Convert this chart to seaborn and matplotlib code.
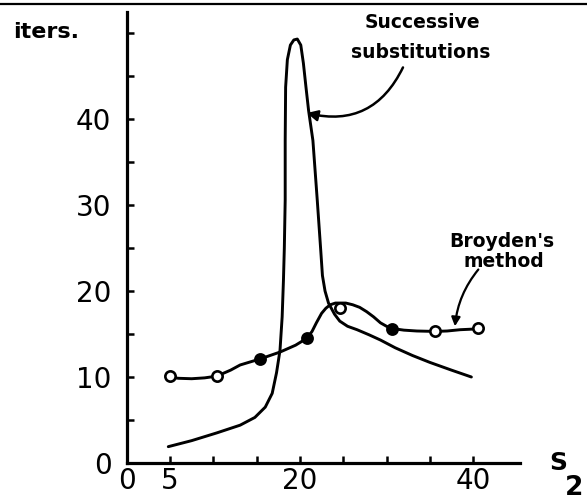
import matplotlib
matplotlib.use("Agg")
import matplotlib.pyplot as plt
import seaborn as sns
import pandas as pd
from matplotlib.lines import Line2D

# Successive substitutions: iterations needed versus S2 (traced curve)
subst_s2 = [4.8, 7.5, 10.4, 13.1, 14.8, 16.0, 16.8, 17.3, 17.7, 17.95, 18.1, 18.2,
            18.3, 18.3, 18.35, 18.55, 18.9, 19.3, 19.7, 20.1, 20.4, 20.7, 21.0,
            21.5, 22.0, 22.4, 22.6, 22.9, 23.3, 24.0, 24.6, 25.5, 26.6, 28.0,
            29.3, 31.0, 33.0, 35.0, 37.5, 39.8]
subst_iters = [1.9, 2.6, 3.5, 4.4, 5.3, 6.5, 8.1, 10.5, 13.1, 17.0, 21.3, 25.0,
               30.6, 37.5, 43.7, 46.9, 48.6, 49.2, 49.3, 48.6, 46.5, 43.7, 41.0,
               37.5, 30.6, 24.8, 21.8, 20.0, 18.6, 17.3, 16.5, 15.9, 15.5, 14.9,
               14.3, 13.4, 12.5, 11.7, 10.8, 10.0]

# Broyden's method: smooth curve drawn through the computed points
broyden_s2 = [4.8, 6.0, 7.5, 9.0, 10.4, 12.0, 13.1, 15.4, 17.7, 19.5, 20.8, 21.4,
              21.9, 22.5, 23.0, 23.5, 24.1, 24.6, 25.3, 26.1, 26.9, 27.7, 28.5,
              29.3, 30.0, 30.6, 32.0, 33.5, 35.6, 37.0, 38.5, 40.6]
broyden_iters = [10.0, 9.85, 9.8, 9.9, 10.1, 10.8, 11.4, 12.1, 12.9, 13.7, 14.5,
                 15.3, 16.3, 17.4, 18.0, 18.4, 18.6, 18.6, 18.6, 18.4, 18.1, 17.6,
                 17.0, 16.3, 15.9, 15.65, 15.45, 15.35, 15.3, 15.35, 15.5, 15.6]

# Broyden's method: computed points (filled or open symbols)
broyden_pts_s2 = [5.0, 10.4, 15.4, 20.8, 24.6, 30.6, 35.6, 40.6]
broyden_pts_iters = [10.1, 10.1, 12.1, 14.5, 18.0, 15.6, 15.3, 15.7]
broyden_pts_filled = [False, False, True, True, False, True, False, False]

y_ticks = list(range(0, 55, 5))
y_tick_labels = ["0", "", "10", "", "20", "", "30", "", "40", "", ""]
x_major = [0, 5, 20, 40]
x_major_labels = ["0", "5", "20", "40"]
x_minor = [10, 15, 25, 30, 35]

sns.set_theme(style="white")
plt.rcParams["font.family"] = ["DejaVu Sans"]
plt.rcParams["font.weight"] = "bold"
plt.rcParams["text.color"] = "black"
plt.rcParams["xtick.color"] = "black"
plt.rcParams["ytick.color"] = "black"

fig = plt.figure(figsize=(5.87, 5.0), dpi=100)
ax = fig.add_axes([126.7 / 587, 37 / 500, 393.2 / 587, 450.6 / 500])

pts = pd.DataFrame({"s2": broyden_pts_s2, "iters": broyden_pts_iters,
                    "filled": broyden_pts_filled})

sns.lineplot(x=subst_s2, y=subst_iters, sort=False, estimator=None,
             color="black", lw=2.1, ax=ax)
sns.lineplot(x=broyden_s2, y=broyden_iters, sort=False, estimator=None,
             color="black", lw=2.1, ax=ax)
sns.scatterplot(data=pts[pts["filled"]], x="s2", y="iters", s=60,
                color="black", edgecolor="black", linewidth=1.5, ax=ax, zorder=4)
sns.scatterplot(data=pts[~pts["filled"]], x="s2", y="iters", s=55,
                color="white", edgecolor="black", linewidth=1.9, ax=ax, zorder=4)

ax.set_xlim(0, 45.4)
ax.set_ylim(0, 52.4)
ax.set_xlabel("")
ax.set_ylabel("")

for side in ("top", "right"):
    ax.spines[side].set_visible(False)
for side in ("left", "bottom"):
    ax.spines[side].set_linewidth(2.3)
    ax.spines[side].set_color("black")

ax.set_yticks(y_ticks)
ax.set_yticklabels(y_tick_labels)
ax.set_xticks(x_major)
ax.set_xticklabels(x_major_labels)
ax.set_xticks(x_minor, minor=True)
ax.tick_params(axis="both", which="both", direction="in", length=5, width=1.8,
               color="black", labelsize=20, labelcolor="black",
               bottom=True, left=True, top=False, right=False)
ax.tick_params(axis="y", pad=11)
ax.tick_params(axis="x", pad=3)
for lab in ax.get_xticklabels() + ax.get_yticklabels():
    lab.set_fontweight("normal")

# curve labels with their pointers
ax.text(34.1, 50.6, "Successive", ha="center", va="baseline", fontsize=13.5,
        fontweight="bold")
ax.text(34.0, 47.1, "substitutions", ha="center", va="baseline", fontsize=13.5,
        fontweight="bold")
ax.annotate("", xy=(20.8, 40.7), xytext=(31.9, 46.0),
            arrowprops=dict(arrowstyle="-|>", connectionstyle="arc3,rad=-0.4",
                            color="black", lw=1.8, mutation_scale=16,
                            shrinkA=0, shrinkB=0))

ax.text(43.3, 25.1, "Broyden's", ha="center", va="baseline", fontsize=13.5,
        fontweight="bold", clip_on=False)
ax.text(43.5, 22.8, "method", ha="center", va="baseline", fontsize=13.5,
        fontweight="bold", clip_on=False)
ax.annotate("", xy=(37.9, 15.9), xytext=(40.6, 22.5),
            arrowprops=dict(arrowstyle="-|>", connectionstyle="arc3,rad=0.15",
                            color="black", lw=1.6, mutation_scale=13,
                            shrinkA=0, shrinkB=0))

# axis titles
fig.text(13 / 587, 1 - 38 / 500, "iters.", ha="left", va="baseline",
         fontsize=16, fontweight="bold")
fig.text(549 / 587, 1 - 470 / 500, "S", ha="left", va="baseline",
         fontsize=18, fontweight="bold")
fig.text(565 / 587, 1 - 495 / 500, "2", ha="left", va="baseline",
         fontsize=19, fontweight="bold")

# rule across the top of the page
fig.add_artist(Line2D([0, 1], [0.992, 0.992], transform=fig.transFigure,
                      color="black", lw=1.6))

fig.savefig("out.png", dpi=100, facecolor="white")
